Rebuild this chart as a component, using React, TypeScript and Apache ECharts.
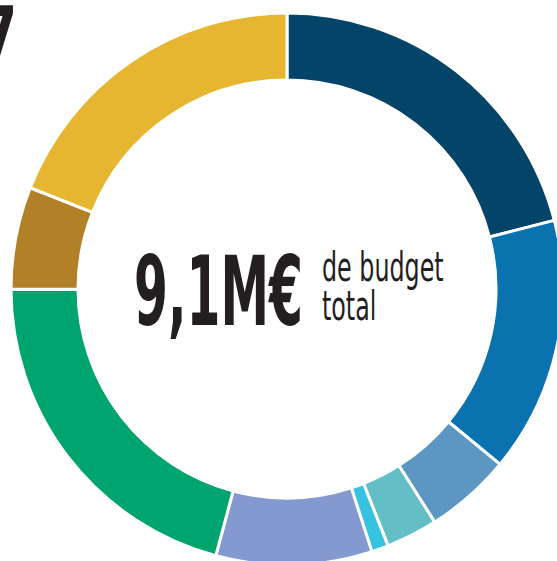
import React, { useEffect, useRef } from "react";
import * as echarts from "echarts";

const categories = ["A", "B", "C", "D", "E", "F", "G", "H", "I"];
const values = [1910, 1360, 460, 275, 90, 830, 1895, 545, 1730];
const colors = ["#044468", "#0a72ae", "#5b97c2", "#63bfc5", "#37c2e0", "#8499cf", "#00a46f", "#b28026", "#e7b631"];
const totalLabel = "9,1M€";
const subLabel1 = "de budget";
const subLabel2 = "total";
const cornerLabel = "7";

const FONT = "'DejaVu Sans Condensed', 'DejaVu Sans', sans-serif";

export default function App() {
  const ref = useRef<HTMLDivElement>(null);
  useEffect(() => {
    if (!ref.current) return;
    const chart = echarts.init(ref.current, null, { renderer: "svg" });
    chart.setOption({
      animation: false,
      backgroundColor: "#ffffff",
      series: [
        {
          type: "pie",
          center: [287, 289],
          radius: [209, 276],
          startAngle: 90,
          clockwise: true,
          silent: true,
          label: { show: false },
          labelLine: { show: false },
          itemStyle: { borderColor: "#ffffff", borderWidth: 3 },
          data: categories.map((c, i) => ({ name: c, value: values[i], itemStyle: { color: colors[i] } })),
        },
      ],
      graphic: [
        {
          type: "text",
          x: 134,
          y: 292,
          scaleX: 0.565,
          style: {
            text: totalLabel,
            fill: "#231f20",
            font: "bold 96px " + FONT,
            textAlign: "left",
            textVerticalAlign: "middle",
          },
        },
        {
          type: "text",
          x: 322,
          y: 267,
          scaleX: 0.645,
          style: {
            text: subLabel1,
            fill: "#231f20",
            font: "41px " + FONT,
            textAlign: "left",
            textVerticalAlign: "middle",
          },
        },
        {
          type: "text",
          x: 322,
          y: 306,
          scaleX: 0.645,
          style: {
            text: subLabel2,
            fill: "#231f20",
            font: "41px " + FONT,
            textAlign: "left",
            textVerticalAlign: "middle",
          },
        },
        {
          type: "text",
          x: 17,
          y: 35,
          scaleX: 0.75,
          style: {
            text: cornerLabel,
            fill: "#231f20",
            font: "bold 78px " + FONT,
            textAlign: "right",
            textVerticalAlign: "middle",
          },
        },
      ],
    });
    return () => chart.dispose();
  }, []);
  return (
    <div
      ref={ref}
      style={{ position: "fixed", left: 0, top: 0, width: 557, height: 561 }}
    />
  );
}
